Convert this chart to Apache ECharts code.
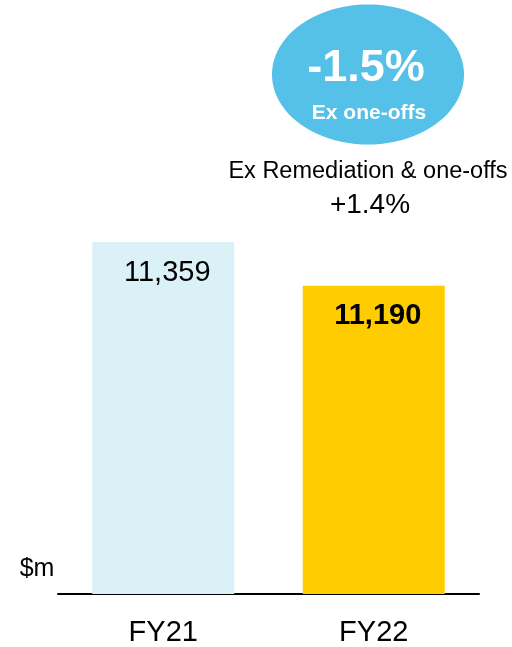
<!DOCTYPE html>
<html>
<head>
<meta charset="utf-8">
<script src="https://cdn.jsdelivr.net/npm/echarts@6/dist/echarts.min.js"></script>
<style>
html,body{margin:0;padding:0;background:#fff;}
#chart{width:512px;height:647px;}
</style>
</head>
<body>
<div id="chart"></div>
<script>
const categories = ['FY21', 'FY22'];
const values = [11359, 11190];
const valueLabels = ['11,359', '11,190'];
const barColors = ['#dbf1f8', '#ffcc00'];
const labelWeights = ['normal', 'bold'];
const unitLabel = '$m';
const bubbleMain = '-1.5%';
const bubbleSub = 'Ex one-offs';
const noteLine1 = 'Ex Remediation & one-offs';
const noteLine2 = '+1.4%';

const FONT = '"Liberation Sans", Arial, Helvetica, sans-serif';
const chart = echarts.init(document.getElementById('chart'), null, {renderer: 'canvas'});
chart.setOption({
  backgroundColor: '#ffffff',
  animation: false,
  grid: {left: 58, right: 33, top: 76, bottom: 53},
  xAxis: {
    type: 'category',
    data: categories,
    axisLine: {show: true, lineStyle: {color: '#000', width: 2}},
    axisTick: {show: false},
    axisLabel: {fontSize: 29, color: '#000', fontFamily: FONT, margin: 24}
  },
  yAxis: {
    type: 'value',
    min: 10000,
    max: 12000,
    show: false,
    splitLine: {show: false}
  },
  series: [{
    type: 'bar',
    barWidth: 142,
    data: values.map((v, i) => ({
      value: v,
      itemStyle: {color: barColors[i]},
      label: {
        show: true,
        position: 'insideTop',
        distance: 16,
        offset: [4, 0],
        formatter: valueLabels[i],
        fontSize: 29,
        fontWeight: labelWeights[i],
        color: '#000',
        fontFamily: FONT
      }
    }))
  }],
  graphic: [
    {type: 'ellipse', shape: {cx: 368, cy: 74.5, rx: 96, ry: 70}, style: {fill: '#55c0e8'}},
    {type: 'text', x: 366, y: 69, style: {text: bubbleMain, fill: '#fff', fontSize: 45, fontWeight: 'bold', fontFamily: FONT, textAlign: 'center', textVerticalAlign: 'middle'}},
    {type: 'text', x: 369, y: 113, style: {text: bubbleSub, fill: '#fff', fontSize: 21, fontWeight: 'bold', fontFamily: FONT, textAlign: 'center', textVerticalAlign: 'middle'}},
    {type: 'text', x: 368, y: 172, style: {text: noteLine1, fill: '#000', fontSize: 23.5, fontFamily: FONT, textAlign: 'center', textVerticalAlign: 'middle'}},
    {type: 'text', x: 370, y: 205, style: {text: noteLine2, fill: '#000', fontSize: 28, fontFamily: FONT, textAlign: 'center', textVerticalAlign: 'middle'}},
    {type: 'text', x: 37, y: 569, style: {text: unitLabel, fill: '#000', fontSize: 25, fontFamily: FONT, textAlign: 'center', textVerticalAlign: 'middle'}}
  ]
});
</script>
</body>
</html>
